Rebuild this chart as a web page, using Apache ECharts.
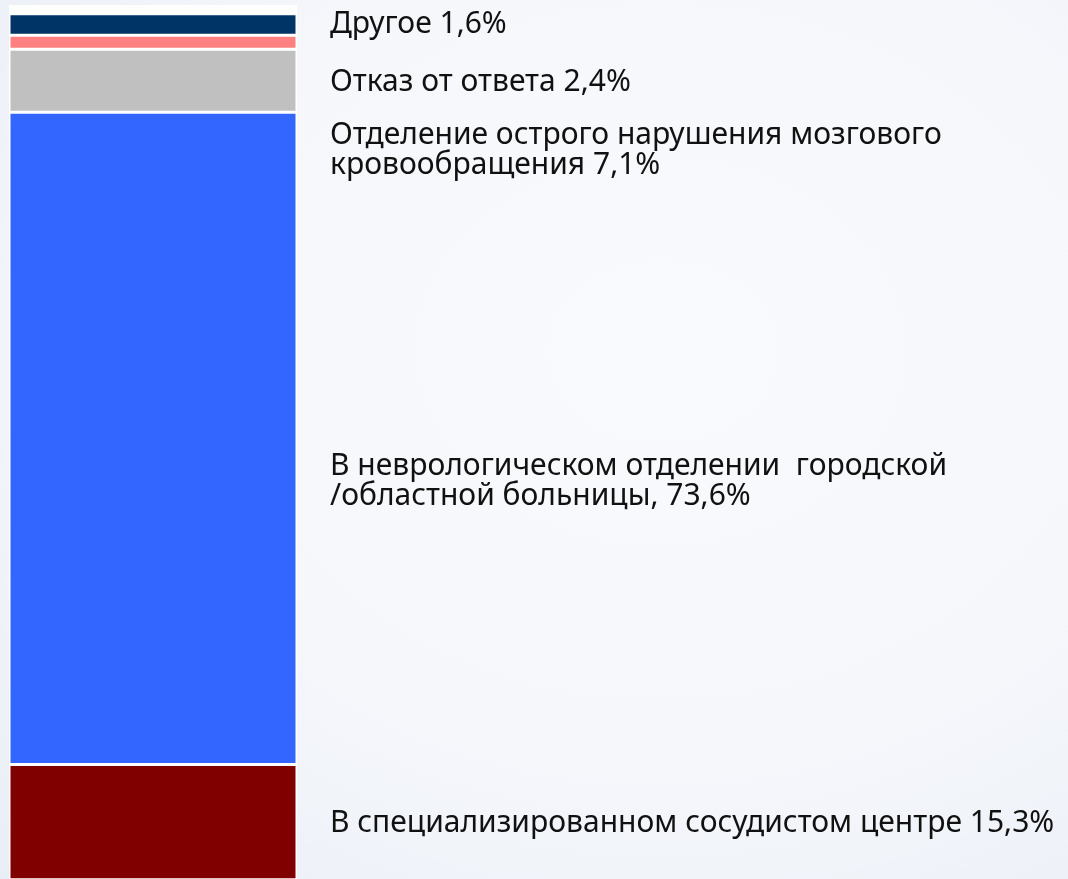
<!DOCTYPE html>
<html>
<head>
<meta charset="utf-8">
<script src="https://cdn.jsdelivr.net/npm/echarts@6/dist/echarts.min.js"></script>
<style>
  html, body { margin: 0; padding: 0; width: 1068px; height: 879px; overflow: hidden; }
  body { background: radial-gradient(ellipse at 62% 40%, #f9fafd 0%, #f5f7fb 55%, #e9eef6 100%); }
  #chart { width: 1068px; height: 879px; }
</style>
</head>
<body>
<div id="chart"></div>
<script>
// Single stacked bar, segments listed bottom-to-top
const categories = ['Место госпитализации'];
const segmentNames = [
  'В специализированном сосудистом центре',
  'В неврологическом отделении городской /областной больницы',
  'Отделение острого нарушения мозгового кровообращения',
  'Отказ от ответа',
  'Другое'
];
const segmentValues = [15.3, 73.6, 7.1, 1.6, 2.4];
// Text shown to the right, attached to segments in the same bottom-to-top order
const labelTexts = [
  'В специализированном сосудистом центре 15,3%',
  'В неврологическом отделении  городской\n/областной больницы, 73,6%',
  'Отделение острого нарушения мозгового\nкровообращения 7,1%',
  'Отказ от ответа 2,4%',
  'Другое 1,6%'
];
// The bar continues below the bottom edge of the picture
const axisMin = 2.37;
const axisMax = 101;

const segmentColors = ['#800000', '#3366FF', '#C0C0C0', '#FF8080', '#003366'];
const labelOffsets = [1, 43, 70, 40, 0];

const chart = echarts.init(document.getElementById('chart'), null, { renderer: 'canvas' });
const series = segmentNames.map((name, i) => ({
  name: name,
  type: 'bar',
  stack: 'total',
  barWidth: '100%',
  clip: true,
  data: [segmentValues[i]],
  showBackground: i === 0,
  backgroundStyle: { color: '#ffffff' },
  itemStyle: {
    color: segmentColors[i],
    borderColor: '#ffffff',
    borderWidth: 1.5
  },
  label: {
    show: true,
    position: 'right',
    distance: 33,
    offset: [0, labelOffsets[i]],
    formatter: () => labelTexts[i],
    fontFamily: 'Noto Sans',
    fontSize: 30,
    lineHeight: 30,
    color: '#111111',
    align: 'left'
  },
  emphasis: { disabled: true },
  animation: false
}));

chart.setOption({
  backgroundColor: 'transparent',
  animation: false,
  grid: { left: 9, width: 288, top: 5, bottom: 0, containLabel: false },
  xAxis: {
    type: 'category',
    data: categories,
    show: false
  },
  yAxis: {
    type: 'value',
    min: axisMin,
    max: axisMax,
    show: false
  },
  series: series
});
</script>
</body>
</html>
